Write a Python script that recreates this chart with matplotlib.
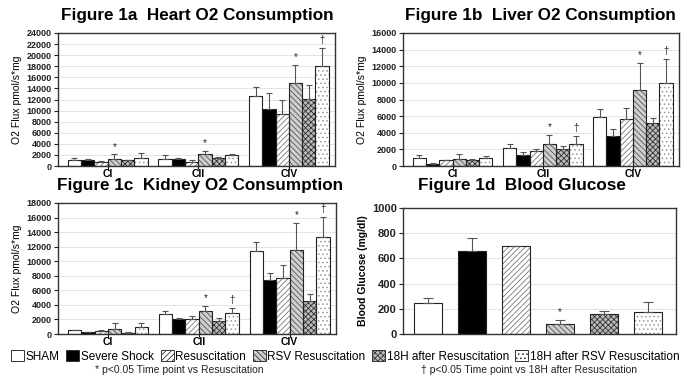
import numpy as np
import matplotlib
matplotlib.use('Agg')
import matplotlib.pyplot as plt
from matplotlib.patches import Patch

plt.rcParams['font.family'] = ['Liberation Sans', 'DejaVu Sans']
plt.rcParams['hatch.linewidth'] = 0.6

# data
groups = ['CI', 'CII', 'CIV']
series = ['SHAM', 'Severe Shock', 'Resuscitation', 'RSV Resuscitation',
          '18H after Resuscitation', '18H after RSV Resuscitation']

# rows = complex (CI, CII, CIV), columns = series
heart_mean = [[1150, 1000, 650, 1300, 1000, 1400],
              [1300, 1200, 700, 2200, 1500, 2000],
              [12600, 10300, 9400, 15000, 12100, 18100]]
heart_err = [[250, 200, 250, 800, 100, 1000],
             [600, 300, 400, 500, 100, 200],
             [1600, 2900, 2500, 3200, 2500, 3200]]
heart_marks = [['', '', '', '*', '', ''],
               ['', '', '', '*', '', ''],
               ['', '', '', '*', '', '†']]

liver_mean = [[1000, 300, 700, 850, 700, 950],
              [2200, 1350, 1800, 2700, 2000, 2700],
              [5900, 3650, 5700, 9100, 5200, 10000]]
liver_err = [[300, 50, 50, 650, 100, 250],
             [400, 350, 300, 1000, 400, 900],
             [900, 750, 1300, 3300, 600, 2900]]
liver_marks = [['', '', '', '', '', ''],
               ['', '', '', '*', '', '†'],
               ['', '', '', '*', '', '†']]

kidney_mean = [[550, 250, 400, 650, 200, 900],
               [2700, 2000, 2000, 3100, 1800, 2950],
               [11400, 7450, 7700, 11550, 4500, 13300]]
kidney_err = [[50, 50, 150, 800, 50, 550],
              [500, 200, 500, 800, 400, 650],
              [1300, 900, 1800, 3750, 1000, 2800]]
kidney_marks = [['', '', '', '', '', ''],
                ['', '', '', '*', '', '†'],
                ['', '', '', '*', '', '†']]

glucose_mean = [249, 660, 702, 76, 162, 178]
glucose_err = [36, 102, 0, 39, 21, 79]
glucose_marks = ['', '', '', '*', '', '']

# bar looks: face colour, hatch, hatch colour
styles = [('white', '', '#444444'),
          ('black', '', '#000000'),
          ('white', '//////', '#777777'),
          ('#cfcfcf', '\\\\\\\\\\\\', '#555555'),
          ('#bbbbbb', 'xxxxxx', '#333333'),
          ('white', '....', '#999999')]


def draw_bar(ax, x, h, w, si):
    face, hatch, hcol = styles[si]
    ax.bar(x, h, w, color=face, hatch=hatch, edgecolor=hcol, linewidth=0, zorder=2)
    ax.bar(x, h, w, fill=False, edgecolor='#222222', linewidth=0.8, zorder=3)


def style_axes(ax, ymax, ystep, ylabel, lsize, bold_label=False):
    ax.set_ylim(0, ymax)
    ax.set_yticks(np.arange(0, ymax + 1, ystep))
    ax.yaxis.grid(True, color='#e4e4e4', linewidth=0.7, zorder=0)
    ax.set_axisbelow(True)
    for sp in ax.spines.values():
        sp.set_color('#333333')
        sp.set_linewidth(1.0)
    ax.tick_params(axis='y', labelsize=lsize, length=3, width=0.8, pad=1.5, colors='#222222')
    for lbl in ax.get_yticklabels():
        lbl.set_fontweight('bold')
    ax.set_ylabel(ylabel, fontsize=7.5, labelpad=3,
                  fontweight='bold' if bold_label else 'normal')


def draw_panel(ax, means, errs, marks, ymax, ystep):
    n = len(series)
    w = 0.147
    xg = np.arange(len(groups))
    for si in range(n):
        x = xg + (si - (n - 1) / 2) * w
        h = np.array([means[g][si] for g in range(len(groups))])
        e = np.array([errs[g][si] for g in range(len(groups))])
        draw_bar(ax, x, h, w, si)
        ax.errorbar(x, h, yerr=[np.zeros_like(e), e], fmt='none', ecolor='#555555',
                    elinewidth=0.8, capsize=2.2, capthick=0.8, zorder=4)
        for g in range(len(groups)):
            if marks[g][si]:
                ax.annotate(marks[g][si], (x[g], h[g] + e[g]), xytext=(0, 2),
                            textcoords='offset points', ha='center', va='bottom',
                            fontsize=7, color='#222222')
    ax.set_xlim(-0.55, 2.51)
    ax.set_xticks(xg)
    ax.set_xticklabels(groups, fontsize=7.5, fontweight='bold')
    ax.tick_params(axis='x', direction='inout', length=4, width=0.8, pad=0.5)
    style_axes(ax, ymax, ystep, 'O2 Flux pmol/s*mg', 6.5)


fig = plt.figure(figsize=(6.91, 3.78), dpi=100)

ax1 = fig.add_axes([0.0839, 0.5608, 0.4009, 0.3519])
ax2 = fig.add_axes([0.5832, 0.5608, 0.3994, 0.3519])
ax3 = fig.add_axes([0.0839, 0.1164, 0.4023, 0.3466])
ax4 = fig.add_axes([0.5832, 0.1164, 0.3951, 0.3333])

draw_panel(ax1, heart_mean, heart_err, heart_marks, 24000, 2000)
draw_panel(ax2, liver_mean, liver_err, liver_marks, 16000, 2000)
draw_panel(ax3, kidney_mean, kidney_err, kidney_marks, 18000, 2000)

# blood glucose panel
xs = np.arange(len(series))
for si in range(len(series)):
    draw_bar(ax4, xs[si], glucose_mean[si], 0.64, si)
ax4.errorbar(xs, glucose_mean, yerr=[np.zeros(len(xs)), glucose_err], fmt='none',
             ecolor='#555555', elinewidth=0.8, capsize=3.5, capthick=0.8, zorder=4)
for si in range(len(series)):
    if glucose_marks[si]:
        ax4.annotate(glucose_marks[si], (xs[si], glucose_mean[si] + glucose_err[si]),
                     xytext=(0, 2), textcoords='offset points', ha='center', va='bottom',
                     fontsize=7, color='#222222')
ax4.set_xlim(-0.57, 5.64)
ax4.set_xticks([])
style_axes(ax4, 1000, 200, 'Blood Glucose (mg/dl)', 8, bold_label=True)

# titles
title_kw = dict(fontsize=12.3, fontweight='bold', ha='center', va='center')
fig.text(0.285, 0.958, 'Figure 1a  Heart O2 Consumption', **title_kw)
fig.text(0.782, 0.958, 'Figure 1b  Liver O2 Consumption', **title_kw)
fig.text(0.290, 0.508, 'Figure 1c  Kidney O2 Consumption', **title_kw)
fig.text(0.755, 0.508, 'Figure 1d  Blood Glucose', **title_kw)

# legend
handles = [Patch(facecolor=styles[i][0], hatch=styles[i][1], edgecolor='#333333',
                 linewidth=0.7, label=series[i]) for i in range(len(series))]
fig.legend(handles=handles, loc='center', bbox_to_anchor=(0.5, 0.057), ncol=6,
           frameon=False, fontsize=8.5, handlelength=1.1, handleheight=1.0,
           handletextpad=0.15, columnspacing=0.55, borderpad=0)

fig.text(0.259, 0.021, '* p<0.05 Time point vs Resuscitation', fontsize=7.5,
         ha='center', va='center', color='#222222')
fig.text(0.766, 0.021, '† p<0.05 Time point vs 18H after Resuscitation', fontsize=7.5,
         ha='center', va='center', color='#222222')

fig.savefig('out.png', dpi=100)
